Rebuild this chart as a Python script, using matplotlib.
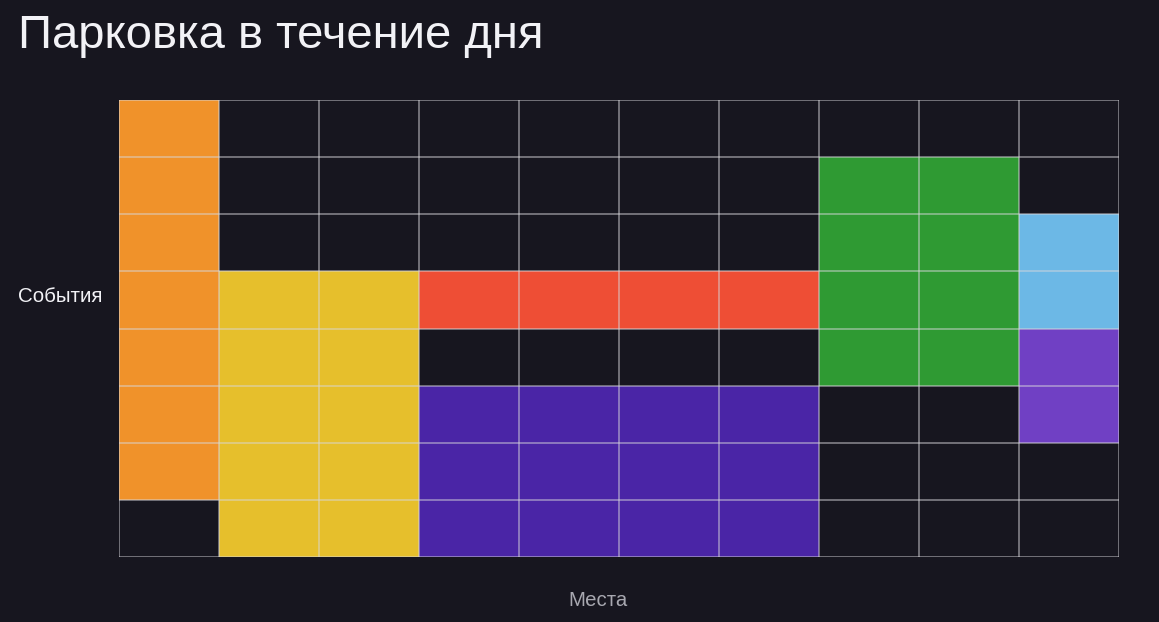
import matplotlib
matplotlib.use("Agg")
import matplotlib.pyplot as plt
from matplotlib.patches import Rectangle

plt.rcParams['font.family'] = ['Liberation Sans', 'DejaVu Sans']

# Grid dimensions
n_places = 10
n_events = 8

# Parking intervals: place start, number of places, event start (from bottom), event end
names = ["orange", "yellow", "red", "indigo", "green", "lightblue", "purple"]
place_start = [0, 1, 3, 3, 7, 9, 9]
place_span = [1, 2, 4, 4, 2, 1, 1]
event_start = [1, 0, 4, 0, 3, 4, 2]
event_end = [8, 5, 5, 3, 7, 6, 4]
colors = ["#F0922A", "#E6BF2C", "#EE4E35", "#4A25A6", "#2F9A33", "#6CB8E6", "#7040C4"]

bg = "#17161F"
fig = plt.figure(figsize=(11.59, 6.22), dpi=100, facecolor=bg)
ax = fig.add_axes([119/1159, 1 - 557/622, 1000/1159, 457/622])
ax.set_facecolor(bg)

for ps, pw, es, ee, c in zip(place_start, place_span, event_start, event_end, colors):
    ax.add_patch(Rectangle((ps, es), pw, ee - es, facecolor=c, edgecolor="none", zorder=1))

for x in range(n_places + 1):
    ax.axvline(x, color="#D8D8DC", alpha=0.6, lw=1.1, zorder=2)
for y in range(n_events + 1):
    ax.axhline(y, color="#D8D8DC", alpha=0.6, lw=1.1, zorder=2)

ax.set_xlim(0, n_places)
ax.set_ylim(0, n_events)
ax.set_xticks([])
ax.set_yticks([])
for s in ax.spines.values():
    s.set_visible(False)

fig.text(18/1159, 1 - 48/622, "Парковка в течение дня", color="#F2F2F6",
         fontsize=34, va="baseline", ha="left")
fig.text(18/1159, 1 - 296/622, "События", color="#F2F2F6",
         fontsize=14.8, va="center", ha="left")
fig.text(598/1159, 1 - 601/622, "Места", color="#A8A8B0",
         fontsize=14.7, va="center", ha="center")

fig.savefig("out.png", dpi=100, facecolor=bg)
